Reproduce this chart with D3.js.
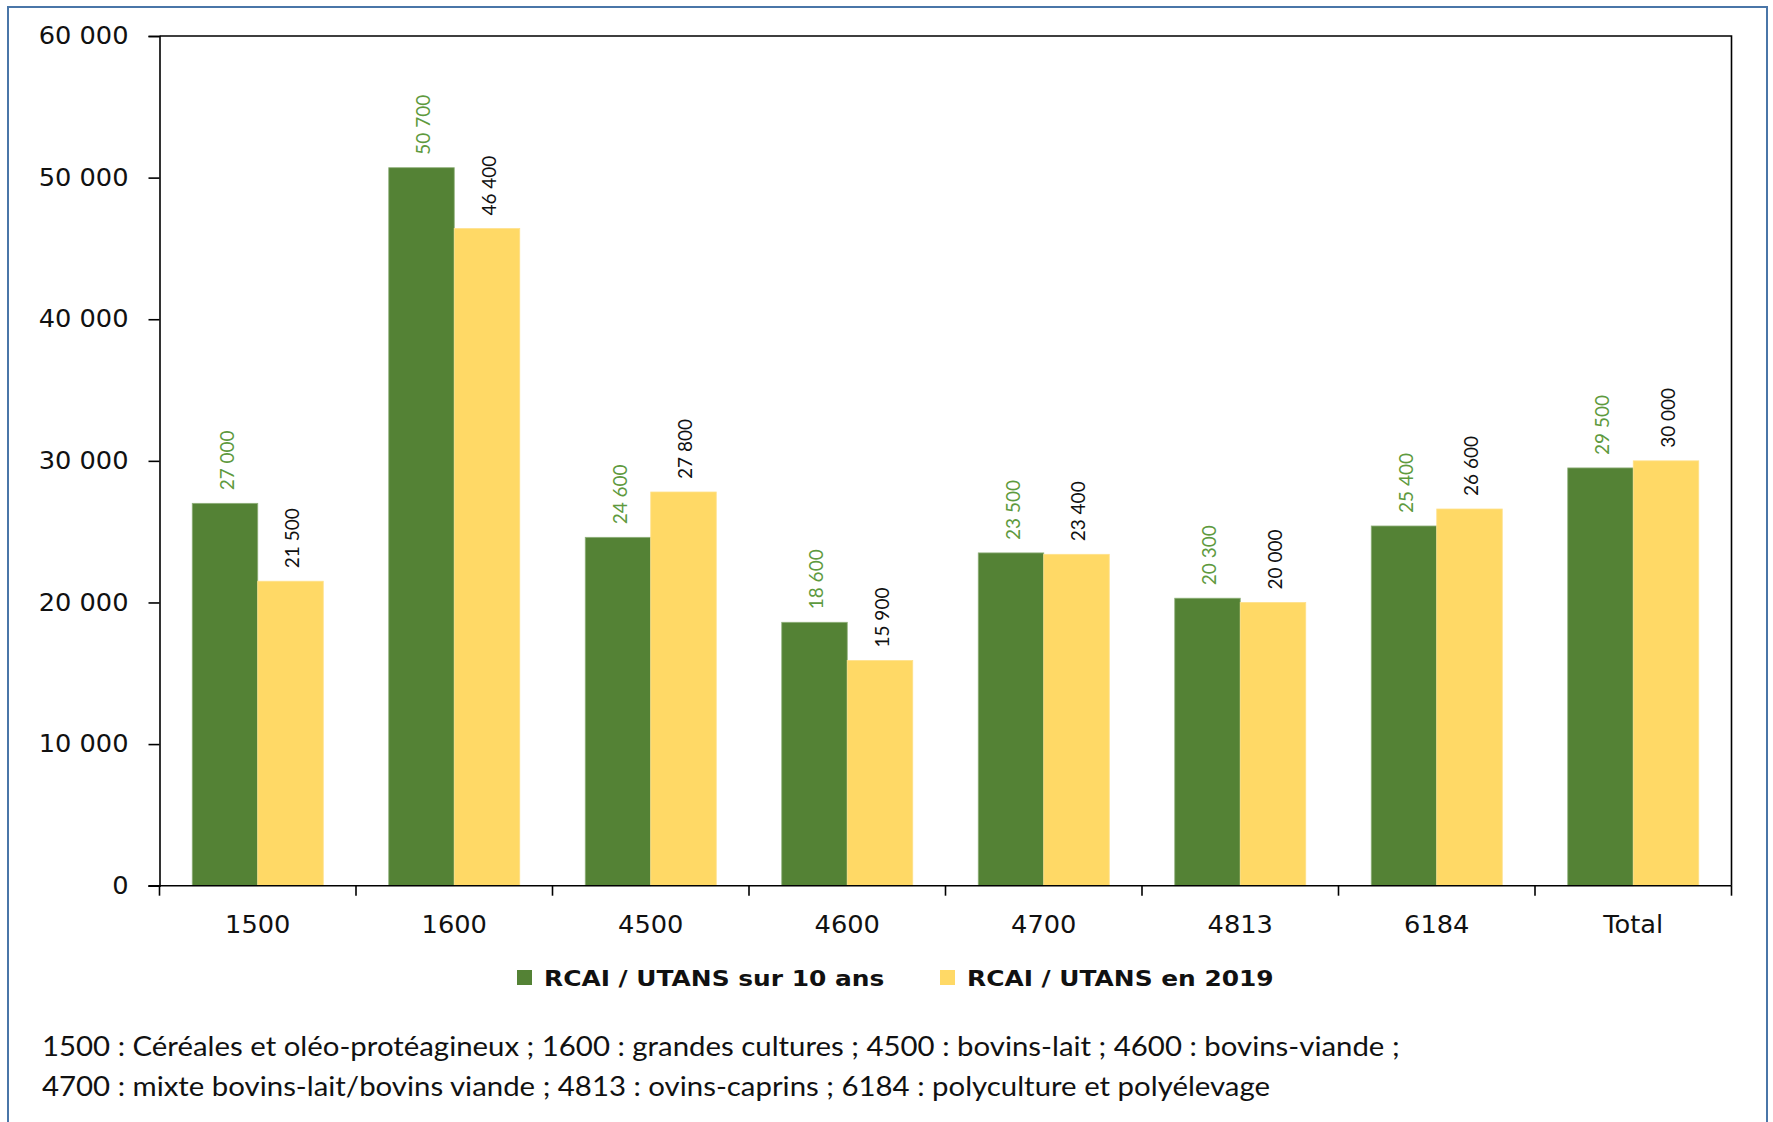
<!DOCTYPE html>
<html>
<head>
<meta charset="utf-8">
<script src="https://cdn.jsdelivr.net/npm/d3@7"></script>
<style>
  html, body { margin: 0; padding: 0; background: #fff; }
  svg { display: block; }
</style>
</head>
<body>
<svg id="chart" width="1773" height="1122"></svg>
<script>
// Orientation codes (OTEX) and the "Total" group
const categories = ["1500", "1600", "4500", "4600", "4700", "4813", "6184", "Total"];
// RCAI per non-salaried worker, 10-year average
const rcai10ans = [27000, 50700, 24600, 18600, 23500, 20300, 25400, 29500];
// RCAI per non-salaried worker, 2019
const rcai2019 = [21500, 46400, 27800, 15900, 23400, 20000, 26600, 30000];
const seriesNames = ["RCAI / UTANS sur 10 ans", "RCAI / UTANS en 2019"];
const yTickValues = [0, 10000, 20000, 30000, 40000, 50000, 60000];
const footnoteLines = [
  "1500 : Céréales et oléo-protéagineux ; 1600 : grandes cultures ; 4500 : bovins-lait ; 4600 : bovins-viande ;",
  "4700 : mixte bovins-lait/bovins viande ; 4813 : ovins-caprins ; 6184 : polyculture et polyélevage"
];

const colors = ["#548235", "#FFD966"];
const labelColors = ["#5E9A3E", "#111111"];

const svg = d3.select("#chart");
const plot = { left: 159.5, right: 1731.5, top: 36, bottom: 885.7 };

const fr = d3.formatLocale({ decimal: ",", thousands: " ", grouping: [3], currency: ["", " €"] });
const fmt = fr.format(",d");

// outer frame
svg.append("rect")
  .attr("x", 8).attr("y", 7)
  .attr("width", 1759).attr("height", 1130)
  .attr("fill", "none").attr("stroke", "#4A76A8").attr("stroke-width", 2);

const x = d3.scaleBand().domain(categories).range([plot.left, plot.right]).padding(0);
const xs = d3.scaleBand().domain([0, 1]).range([0, x.bandwidth()]).paddingInner(0).paddingOuter(0.5);
const y = d3.scaleLinear().domain([0, 60000]).range([plot.bottom, plot.top]);

const series = [rcai10ans, rcai2019];
const g = svg.append("g");

// bars
series.forEach((vals, si) => {
  g.selectAll(null).data(categories).join("rect")
    .attr("x", (c) => x(c) + xs(si))
    .attr("y", (c, i) => y(vals[i]))
    .attr("width", xs.bandwidth())
    .attr("height", (c, i) => y(0) - y(vals[i]))
    .attr("fill", colors[si])
    .attr("stroke", si === 0 ? "#8fb07a" : "#ffe08a")
    .attr("stroke-width", 0.8);
});

// value labels, rotated
series.forEach((vals, si) => {
  g.selectAll(null).data(categories).join("text")
    .attr("transform", (c, i) => {
      const cx = x(c) + xs(si) + xs.bandwidth() / 2 + 1;
      const cy = y(vals[i]) - 13;
      return `translate(${cx},${cy}) rotate(-90)`;
    })
    .attr("dominant-baseline", "central")
    .attr("text-anchor", "start")
    .attr("font-family", "Lato, 'Open Sans', sans-serif")
    .attr("font-size", 19)
    .attr("fill", labelColors[si])
    .text((c, i) => fmt(vals[i]));
});

// plot frame (top and right edges)
svg.append("path")
  .attr("d", `M${plot.left},${plot.top}H${plot.right}V${plot.bottom}`)
  .attr("fill", "none").attr("stroke", "#000").attr("stroke-width", 1.6);

// y axis
const axisStretch = 1.07;
const yAxis = d3.axisLeft(y).tickValues(yTickValues).tickSize(11).tickPadding(20).tickFormat(fmt);
const ya = svg.append("g").attr("transform", `translate(${plot.left},0)`).call(yAxis);
ya.select(".domain").attr("stroke", "#000").attr("stroke-width", 1.6);
ya.selectAll(".tick line").attr("stroke", "#000").attr("stroke-width", 1.6);
ya.selectAll(".tick text")
  .attr("x", -31 / axisStretch)
  .attr("transform", `scale(${axisStretch},1)`)
  .attr("font-family", "'DejaVu Sans', Verdana, sans-serif")
  .attr("font-size", 24).attr("fill", "#111");

// x axis: ticks at band boundaries, labels centred in bands
const boundaries = categories.map((c) => x(c)).concat([plot.right]);
const xa = svg.append("g");
xa.append("line")
  .attr("x1", plot.left - 11).attr("x2", plot.right)
  .attr("y1", plot.bottom).attr("y2", plot.bottom)
  .attr("stroke", "#000").attr("stroke-width", 1.6);
xa.selectAll(null).data(boundaries).join("line")
  .attr("x1", (d) => d).attr("x2", (d) => d)
  .attr("y1", plot.bottom).attr("y2", plot.bottom + 10)
  .attr("stroke", "#000").attr("stroke-width", 1.6);
xa.selectAll(null).data(categories).join("text")
  .attr("transform", (c) => `translate(${x(c) + x.bandwidth() / 2},933) scale(${axisStretch},1)`)
  .attr("text-anchor", "middle")
  .attr("font-family", "'DejaVu Sans', Verdana, sans-serif")
  .attr("font-size", 24).attr("fill", "#111")
  .text((c) => c);

// legend
const legendItems = [
  { name: seriesNames[0], color: colors[0], x: 517 },
  { name: seriesNames[1], color: colors[1], x: 940 }
];
const lg = svg.append("g");
legendItems.forEach((d) => {
  lg.append("rect").attr("x", d.x).attr("y", 970).attr("width", 15).attr("height", 15).attr("fill", d.color);
  lg.append("text")
    .attr("transform", `translate(${d.x + 27},986) scale(1.185,1)`)
    .attr("font-family", "'DejaVu Sans', Verdana, sans-serif")
    .attr("font-weight", "bold")
    .attr("font-size", 21).attr("fill", "#111")
    .text(d.name);
});

// footnote
svg.append("g").selectAll("text").data(footnoteLines).join("text")
  .attr("transform", (d, i) => `translate(42,${1056 + i * 39.5}) scale(1.13,1)`)
  .attr("font-family", "Lato, 'Open Sans', sans-serif")
  .attr("font-size", 26).attr("fill", "#111")
  .text((d) => d);
</script>
</body>
</html>
